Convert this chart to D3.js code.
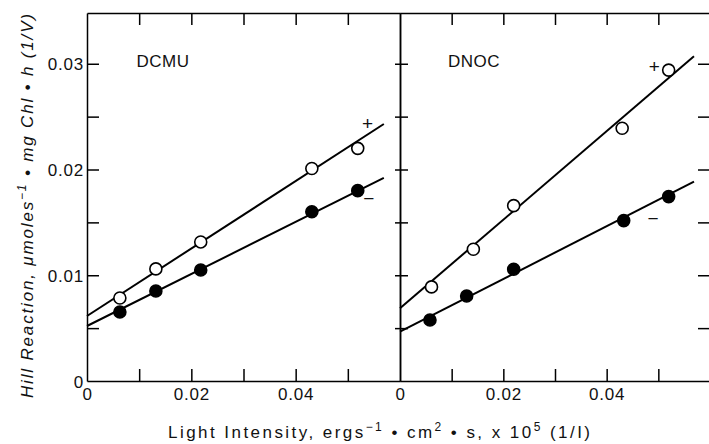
<!DOCTYPE html>
<html>
<head>
<meta charset="utf-8">
<script src="https://cdn.jsdelivr.net/npm/d3@7"></script>
<style>
  html, body { margin: 0; padding: 0; background: #fff; }
  svg { display: block; }
  text { font-family: "Liberation Sans", Arial, sans-serif; fill: #111; }
</style>
</head>
<body>
<svg id="chart" width="709" height="444"></svg>
<script>
// Reciprocal plots (1/V vs 1/I) of the Hill reaction, with (+) and without (−) inhibitor
const panels = ["DCMU", "DNOC"];

// DCMU panel
const dcmuX        = [0.0063, 0.0132, 0.0218, 0.0431, 0.0519];
const dcmuPlus     = [0.00785, 0.0106, 0.01315, 0.0201, 0.0220];
const dcmuMinus    = [0.00653, 0.00851, 0.0105, 0.0160, 0.0180];
const dcmuPlusFit  = [0.00615, 0.0243];   // fitted line at x = 0 and x = fitEnd
const dcmuMinusFit = [0.0052, 0.0192];

// DNOC panel
const dnocPlusX    = [0.0061, 0.0142, 0.0220, 0.0430, 0.0520];
const dnocPlus     = [0.0089, 0.01246, 0.01658, 0.0239, 0.0294];
const dnocMinusX   = [0.0058, 0.0129, 0.0220, 0.0433, 0.0520];
const dnocMinus    = [0.00577, 0.00804, 0.01057, 0.01517, 0.01744];
const dnocPlusFit  = [0.00688, 0.0307];
const dnocMinusFit = [0.00466, 0.01886];

const fitEnd = 0.0569;

// "+" / "−" curve tags, [x, y] in data units
const dcmuTags = [["+", 0.0538, 0.0244], ["−", 0.0540, 0.0173]];
const dnocTags = [["+", 0.0492, 0.0298], ["−", 0.0490, 0.0154]];

// axis ticks and labels
const xMinorTicks = [0.01, 0.02, 0.03, 0.04, 0.05];
const xLabelTicks = [0, 0.02, 0.04];
const xTickLabels = ["0", "0.02", "0.04"];
const yMinorTicks = [0.005, 0.01, 0.015, 0.02, 0.025, 0.03];
const yLabelTicks = [0, 0.01, 0.02, 0.03];
const yTickLabels = ["0", "0.01", "0.02", "0.03"];

const svg = d3.select("#chart");

const plotTop = 13, plotBottom = 381;
const y = d3.scaleLinear().domain([0, 0.0348]).range([plotBottom, plotTop]);
const xL = d3.scaleLinear().domain([0, 0.06]).range([87, 400]);
const xR = d3.scaleLinear().domain([0, 0.06]).range([400, 710]);

const axisStroke = 1.5;
function styleAxis(g) {
  g.selectAll("path.domain").attr("stroke", "#000").attr("stroke-width", axisStroke);
  g.selectAll(".tick line").attr("stroke", "#000").attr("stroke-width", axisStroke);
  g.selectAll(".tick text").remove();
}

// frame and tick marks
[xL, xR].forEach(x => {
  svg.append("g").attr("transform", `translate(0,${plotBottom})`)
    .call(d3.axisTop(x).tickValues(xMinorTicks).tickSize(12).tickSizeOuter(0).tickFormat(""))
    .call(styleAxis);
  svg.append("g").attr("transform", `translate(0,${plotTop})`)
    .call(d3.axisBottom(x).tickValues(xMinorTicks).tickSize(12).tickSizeOuter(0).tickFormat(""))
    .call(styleAxis);
});

svg.append("g").attr("transform", `translate(${xL(0)},0)`)
  .call(d3.axisRight(y).tickValues(yMinorTicks).tickSize(12).tickSizeOuter(0).tickFormat(""))
  .call(styleAxis);
svg.append("g").attr("transform", `translate(${xR(0)},0)`)
  .call(d3.axisLeft(y).tickValues(yMinorTicks).tickSize(5).tickSizeOuter(0).tickFormat(""))
  .call(styleAxis);
svg.append("g").attr("transform", `translate(${xR(0)},0)`)
  .call(d3.axisRight(y).tickValues(yMinorTicks).tickSize(8).tickSizeOuter(0).tickFormat(""))
  .call(styleAxis);
svg.append("g").attr("transform", `translate(${xR(0.06)},0)`)
  .call(d3.axisLeft(y).tickValues(yMinorTicks).tickSize(12).tickSizeOuter(0).tickFormat(""))
  .call(styleAxis);

// tick labels
const labelFont = 17;
[xL, xR].forEach(x => {
  const g = svg.append("g").attr("transform", `translate(0,${plotBottom})`)
    .call(d3.axisBottom(x).tickValues(xLabelTicks).tickSize(0)
      .tickFormat((d, i) => xTickLabels[i]));
  g.select("path.domain").remove();
  g.selectAll(".tick text")
    .attr("y", 19).attr("dy", null)
    .style("font-size", labelFont + "px")
    .style("letter-spacing", "0.8px")
    .style("font-family", "'Liberation Sans', Arial, sans-serif")
    .attr("fill", "#111");
});

const gy = svg.append("g").attr("transform", `translate(${xL(0)},0)`)
  .call(d3.axisLeft(y).tickValues(yLabelTicks).tickSize(0).tickPadding(3)
    .tickFormat((d, i) => yTickLabels[i]));
gy.select("path.domain").remove();
gy.selectAll(".tick text")
  .attr("dy", "0.36em")
  .style("font-size", labelFont + "px")
  .style("letter-spacing", "0.8px")
  .style("font-family", "'Liberation Sans', Arial, sans-serif")
  .attr("fill", "#111");

// panel names
svg.append("text").attr("x", xL(0.0095)).attr("y", y(0.0297))
  .style("font-size", "17px").style("letter-spacing", "0.5px").text(panels[0]);
svg.append("text").attr("x", xR(0.0093)).attr("y", y(0.0297))
  .style("font-size", "17px").style("letter-spacing", "0.5px").text(panels[1]);

// fitted lines, circles and tags
function drawPanel(x, series, tags) {
  const line = d3.line().x(d => x(d[0])).y(d => y(d[1]));
  series.forEach(s => {
    svg.append("path")
      .datum([[0, s.fit[0]], [fitEnd, s.fit[1]]])
      .attr("d", line)
      .attr("fill", "none").attr("stroke", "#000").attr("stroke-width", 2);
  });
  series.forEach(s => {
    svg.append("g").selectAll("circle")
      .data(s.xs.map((v, i) => [v, s.ys[i]]))
      .join("circle")
      .attr("cx", d => x(d[0])).attr("cy", d => y(d[1])).attr("r", 6)
      .attr("fill", s.filled ? "#000" : "#fff")
      .attr("stroke", "#000").attr("stroke-width", 1.6);
  });
  svg.append("g").selectAll("text")
    .data(tags)
    .join("text")
    .attr("x", d => x(d[1])).attr("y", d => y(d[2]))
    .attr("text-anchor", "middle").attr("dy", "0.35em")
    .style("font-size", "19px")
    .text(d => d[0]);
}

drawPanel(xL, [
  { xs: dcmuX, ys: dcmuPlus, fit: dcmuPlusFit, filled: false },
  { xs: dcmuX, ys: dcmuMinus, fit: dcmuMinusFit, filled: true }
], dcmuTags);

drawPanel(xR, [
  { xs: dnocPlusX, ys: dnocPlus, fit: dnocPlusFit, filled: false },
  { xs: dnocMinusX, ys: dnocMinus, fit: dnocMinusFit, filled: true }
], dnocTags);

// axis titles
const xt = svg.append("text")
  .attr("x", 168).attr("y", 438)
  .attr("textLength", 422).attr("lengthAdjust", "spacing")
  .style("font-size", "17px");
xt.append("tspan").text("Light Intensity, ergs");
xt.append("tspan").attr("dy", -7).style("font-size", "12px").text("−1");
xt.append("tspan").attr("dy", 7).text(" • cm");
xt.append("tspan").attr("dy", -7).style("font-size", "12px").text("2");
xt.append("tspan").attr("dy", 7).text("  • s, x 10");
xt.append("tspan").attr("dy", -7).style("font-size", "12px").text("5");
xt.append("tspan").attr("dy", 7).text("   (1/I)");

const yt = svg.append("text")
  .attr("transform", "translate(33,206) rotate(-90)")
  .attr("text-anchor", "middle")
  .attr("textLength", 384).attr("lengthAdjust", "spacing")
  .style("font-size", "17px").style("font-style", "italic");
yt.append("tspan").text("Hill Reaction, μmoles");
yt.append("tspan").attr("dy", -7).style("font-size", "12px").text("−1");
yt.append("tspan").attr("dy", 7).text(" • mg Chl • h (1/V)");
</script>
</body>
</html>
